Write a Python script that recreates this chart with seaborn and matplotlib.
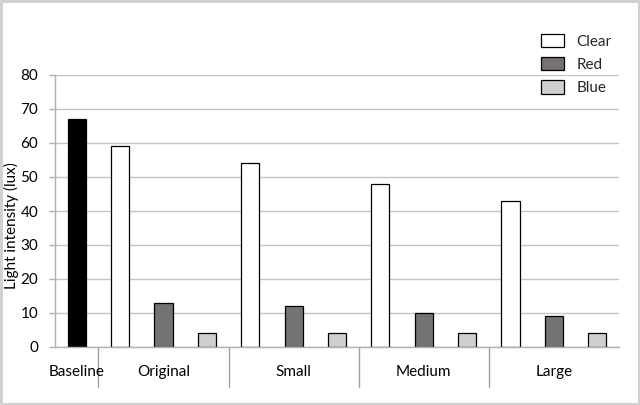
import seaborn as sns
import matplotlib.pyplot as plt
import matplotlib.patches as mpatches
import pandas as pd

# values
groups = ["Original", "Small", "Medium", "Large"]
baseline = 67
clear = [59, 54, 48, 43]
red = [13, 12, 10, 9]
blue = [4, 4, 4, 4]
series = ["Clear", "Red", "Blue"]
colors = {"Baseline": "#000000", "Clear": "#ffffff", "Red": "#767171", "Blue": "#d0cece"}

# one row per bar, baseline first and then the three filters of each size
rows = [{"slot": "Baseline", "series": "Baseline", "lux": baseline}]
for i, g in enumerate(groups):
    for s, vals in zip(series, [clear, red, blue]):
        rows.append({"slot": g + " " + s, "series": s, "lux": vals[i]})
df = pd.DataFrame(rows)
slots = df["slot"].tolist()

sns.set_theme(style="white")
plt.rcParams["font.family"] = ["Lato", "DejaVu Sans"]
fs = 11

fig = plt.figure(figsize=(6.4, 4.05), dpi=100)
ax = fig.add_axes([55 / 640, 1 - 347 / 405, 564 / 640, 272 / 405])

sns.barplot(data=df, x="slot", y="lux", hue="series", order=slots,
            hue_order=["Baseline"] + series, palette=colors, dodge=False,
            width=0.42, edgecolor="black", linewidth=0.9, legend=False, ax=ax)

ax.set_xlim(-0.5, len(slots) - 0.5)
ax.set_ylim(0, 80)
ax.set_yticks(range(0, 81, 10))
ax.yaxis.grid(True, color="#c4c4c4", linewidth=1)
ax.set_axisbelow(True)
ax.tick_params(axis="y", left=True, length=4, width=1, color="#b0b0b0",
               pad=8, labelsize=fs, labelcolor="black")
ax.set_xticks([])
ax.set_xlabel("")
for side in ["top", "right"]:
    ax.spines[side].set_visible(False)
for side in ["left", "bottom"]:
    ax.spines[side].set_color("#b0b0b0")
    ax.spines[side].set_linewidth(1)

ax.set_ylabel("Light intensity (lux)", fontsize=fs, color="black")
ax.yaxis.set_label_coords(-0.064, 0.445)

# two-level category axis: group labels and separators under the bars
trans = ax.get_xaxis_transform()
ax.text(0, -0.092, "Baseline", transform=trans, ha="center", va="center",
        fontsize=fs, color="black")
for i, g in enumerate(groups):
    start = 1 + 3 * i
    ax.text(start + 1, -0.092, g, transform=trans, ha="center", va="center",
            fontsize=fs, color="black")
    ax.plot([start - 0.5, start - 0.5], [0, -0.147], transform=trans,
            color="#a0a0a0", linewidth=1, clip_on=False)

handles = [mpatches.Patch(facecolor=colors[s], edgecolor="black", linewidth=0.9, label=s)
           for s in series]
fig.legend(handles=handles, loc="upper left", bbox_to_anchor=(541 / 640, 1 - 34 / 405),
           frameon=False, fontsize=fs, handlelength=1.5, handleheight=0.95,
           handletextpad=0.8, labelspacing=0.55, borderpad=0, borderaxespad=0)

fig.patch.set_edgecolor("#d0d0d0")
fig.patch.set_linewidth(2.5)
fig.savefig("out.png", dpi=100, edgecolor=fig.get_edgecolor())
